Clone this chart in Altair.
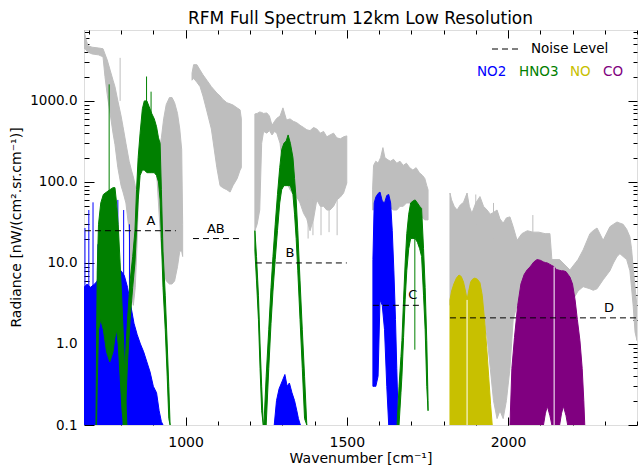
import altair as alt
import pandas as pd

FONT = "DejaVu Sans"

# ---------------- data ----------------
# Total spectrum (gray), drawn as envelope bands per spectral segment
GRAY_A_WN = [685, 690, 697, 710, 730, 744, 750, 757, 766, 775, 781, 790, 800, 806, 815, 825, 832, 838, 844, 849,
             856, 870, 890, 905, 912, 918, 925, 932, 940, 950, 958, 966, 975, 982, 988, 991]
GRAY_A_HI = [7500, 6000, 4800, 4600, 4500, 4400, 3800, 3200, 2400, 1800, 1500, 1000, 650, 480, 300, 180, 140, 115, 90, 60,
             150, 450, 500, 400, 300, 250, 350, 600, 900, 1100, 1100, 950, 700, 450, 250, 30]
GRAY_A_LO = [4500, 4300, 4000, 3800, 3700, 3500, 2000, 1200, 700, 400, 290, 150, 90, 75, 55, 25, 4, 3, 5, 15,
             120, 250, 250, 200, 100, 40, 15, 8, 6, 5.5, 5.5, 6, 9, 14, 14, 12]

GRAY_AB_WN = [1020, 1025, 1035, 1045, 1054, 1066, 1080, 1097, 1107, 1115, 1128, 1138, 1147, 1160, 1169, 1173]
GRAY_AB_HI = [2200, 2800, 2800, 2400, 2100, 1800, 1500, 1250, 1150, 1050, 950, 920, 890, 820, 775, 600]
GRAY_AB_LO = [1800, 1900, 1700, 1500, 1150, 750, 450, 150, 90, 85, 80, 75, 90, 110, 140, 150]

GRAY_B_WN = [1215, 1222, 1230, 1236, 1242, 1252, 1260, 1268, 1276, 1283, 1293, 1302, 1313, 1324, 1334, 1344,
             1350, 1355, 1366, 1376, 1386, 1397, 1407, 1418, 1428, 1438, 1448, 1459, 1469, 1480, 1490, 1500]
GRAY_B_HI = [690, 700, 730, 720, 700, 710, 650, 500, 560, 610, 650, 820, 580, 600, 560, 540,
             520, 500, 470, 440, 430, 470, 450, 400, 420, 360, 380, 400, 350, 340, 360, 370]
GRAY_B_LO = [25, 30, 45, 300, 420, 400, 430, 380, 420, 400, 300, 150, 100, 80, 70, 65,
             60, 55, 41, 35, 25, 35, 60, 50, 50, 45, 45, 50, 60, 65, 73, 97]

GRAY_C_WN = [1580, 1583, 1590, 1597, 1605, 1612, 1618, 1625, 1635, 1645, 1655, 1665, 1675, 1685, 1695, 1705,
             1715, 1725, 1735, 1742, 1748, 1752]
GRAY_C_HI = [80, 160, 180, 170, 200, 265, 200, 190, 180, 190, 170, 180, 160, 170, 150, 140,
             150, 130, 120, 110, 90, 80]
GRAY_C_LO = [45, 45, 50, 50, 50, 50, 50, 50, 48, 45, 45, 50, 50, 55, 55, 50,
             50, 45, 36, 34, 34, 34]

GRAY_D_WN = [1820, 1825, 1833, 1842, 1852, 1862, 1873, 1880, 1888, 1900, 1913, 1924, 1935, 1945, 1955, 1966,
             1975, 1985, 1995, 2006, 2016, 2028, 2043, 2060, 2077, 2095, 2115, 2130, 2136, 2160, 2192, 2217,
             2233, 2254, 2264, 2276, 2295, 2316, 2327, 2338, 2347, 2357, 2368, 2378, 2383, 2388, 2394, 2400]
GRAY_D_HI = [73, 60, 50, 45, 52, 56, 73, 50, 41, 55, 66, 50, 45, 40, 42, 45,
             35, 31, 36, 37, 28, 19, 23, 25, 24, 24, 23, 23, 11, 11, 8.2, 11,
             14.5, 23, 25, 27, 19, 28, 30, 32, 31, 30, 26, 21, 15, 9, 5, 2.9]
GRAY_D_LO = [3, 3, 3, 3, 3, 3, 3, 3, 3, 3, 3, 2.5, 1.2, 0.5, 0.2, 0.12,
             0.15, 0.12, 0.2, 0.5, 2, 3, 3, 3, 3, 3, 3, 3, 3, 3, 3, 4.5,
             5.1, 4.8, 4.6, 4.8, 6.2, 8, 10, 12, 13, 12, 11, 8, 5, 3, 1.4, 1.1]

GRAY_SPIKE_WN = [797, 1380, 1395, 1420, 1445, 1470, 1900, 1955, 2077]
GRAY_SPIKE_LO = [1000, 20, 22, 22, 24, 22, 30, 20, 20]
GRAY_SPIKE_HI = [3400, 60, 60, 60, 60, 60, 70, 55, 39]

# NO2 (blue)
NO2_A_WN = [685, 695, 705, 718, 726, 732, 740, 750, 760, 770, 780, 790, 800, 810, 820, 830, 840, 850, 860,
            870, 880, 890, 900, 910, 918, 925, 930]
NO2_A_HI = [5, 5.5, 5, 5.5, 6, 9, 10, 8, 9, 7, 10, 8, 8, 7, 5, 3, 1.8, 1.3, 1.0,
            0.8, 0.6, 0.45, 0.3, 0.25, 0.15, 0.11, 0.1]
NO2_A_LO = [0.1] * len(NO2_A_WN)

NO2_B_WN = [1275, 1282, 1290, 1300, 1308, 1315, 1322, 1330, 1338, 1345, 1350, 1356]
NO2_B_HI = [0.1, 0.2, 0.28, 0.35, 0.42, 0.3, 0.33, 0.25, 0.2, 0.15, 0.12, 0.1]
NO2_B_LO = [0.1] * len(NO2_B_WN)

NO2_C_WN = [1581, 1585, 1590, 1597, 1603, 1610, 1617, 1624, 1630, 1636, 1641, 1646, 1651, 1655, 1660]
NO2_C_HI = [11, 55, 65, 72, 75, 58, 55, 68, 70, 55, 25, 8, 2, 0.5, 0.1]
NO2_C_LO = [0.3, 0.3, 0.3, 0.4, 3.5, 3, 1.5, 0.3, 0.1, 0.1, 0.1, 0.1, 0.1, 0.1, 0.1]

NO2_SPIKE_WN = [688, 700, 713, 728, 772, 790, 808, 826]
NO2_SPIKE_HI = [27, 45, 56, 17, 14, 60, 45, 30]
NO2_SPIKE_LO = [0.1, 0.1, 0.1, 0.1, 0.1, 0.1, 0.1, 0.1]

# HNO3 (green)
HNO3_A1_WN = [722, 724, 726, 730, 737, 745, 755, 765, 775, 781, 786, 791, 797, 803, 808, 813, 818]
HNO3_A1_HI = [0.1, 1, 8, 30, 55, 70, 75, 80, 85, 85, 55, 30, 10, 3, 1, 0.3, 0.1]
HNO3_A1_LO = [0.1, 0.1, 0.3, 1.5, 2, 1.5, 0.8, 0.6, 0.8, 1.2, 1.5, 1, 0.4, 0.15, 0.1, 0.1, 0.1]

HNO3_A2_WN = [806, 812, 820, 828, 836, 843, 848, 853, 859, 866, 872, 880, 887, 895, 903, 910, 916, 921,
              925, 930, 937, 943, 948, 952]
HNO3_A2_HI = [0.1, 0.5, 2, 6, 12, 25, 80, 200, 400, 800, 1000, 1000, 850, 700, 600, 480, 350, 300,
              80, 14, 4, 1, 0.3, 0.1]
HNO3_A2_LO = [0.1, 0.1, 0.6, 2, 5, 10, 25, 60, 120, 140, 140, 130, 130, 130, 130, 120, 100, 60,
              20, 5, 1.5, 0.4, 0.12, 0.1]

HNO3_B1_WN = [1215, 1220, 1226, 1231, 1236, 1241]
HNO3_B1_HI = [25, 12, 4, 1.0, 0.3, 0.1]
HNO3_B1_LO = [14, 6, 2, 0.5, 0.15, 0.1]

HNO3_B2_WN = [1243, 1250, 1258, 1265, 1271, 1278, 1285, 1292, 1298, 1305, 1312, 1318, 1325, 1333, 1338,
              1343, 1348, 1355, 1362, 1369, 1376]
HNO3_B2_HI = [0.1, 0.4, 1.5, 5, 12, 30, 70, 150, 250, 300, 320, 380, 300, 200, 110,
              60, 25, 6, 1.5, 0.4, 0.1]
HNO3_B2_LO = [0.1, 0.1, 0.5, 1.8, 4.5, 11, 25, 55, 80, 90, 90, 90, 90, 70, 40,
              20, 8, 2, 0.5, 0.12, 0.1]

HNO3_C_WN = [1656, 1662, 1668, 1671, 1676, 1681, 1686, 1692, 1698, 1705, 1712, 1719, 1726, 1732, 1738,
             1743, 1748, 1752]
HNO3_C_HI = [0.1, 0.3, 0.7, 1.1, 3.5, 10, 23, 40, 55, 58, 60, 55, 50, 47, 15, 5, 1.1, 0.2]
HNO3_C_LO = [0.1, 0.1, 0.25, 0.4, 1.2, 3.5, 8, 15, 20, 20, 20, 18, 15, 12, 4, 1.5, 0.3, 0.15]

HNO3_SPIKE_WN = [763, 879, 893, 1711]
HNO3_SPIKE_HI = [1600, 2000, 1300, 40]
HNO3_SPIKE_LO = [60, 800, 600, 0.85]

# NO (yellow)
NO_WN = [1820, 1825, 1832, 1840, 1848, 1855, 1862, 1868, 1873, 1878, 1884, 1890, 1897, 1905, 1913, 1920,
         1927, 1934, 1940, 1946, 1951]
NO_HI = [3.5, 4.5, 5.5, 6.5, 7.1, 6.8, 5.8, 4.5, 3.5, 4.5, 5.8, 6.3, 6.5, 6.3, 5.7, 4,
         2, 0.9, 0.4, 0.18, 0.1]
NO_LO = [0.1] * len(NO_WN)

# CO (purple)
CO_WN = [2006, 2012, 2020, 2030, 2040, 2050, 2060, 2068, 2080, 2090, 2100, 2110, 2116, 2122, 2130, 2136,
         2143, 2150, 2160, 2166, 2172, 2180, 2185, 2192, 2200, 2208, 2215, 2223, 2230, 2235, 2238]
CO_HI = [0.1, 0.5, 1.2, 3, 5.5, 7.2, 8.3, 8.9, 10.3, 11, 10.8, 10.3, 10.1, 10, 9.6, 9.3,
         9, 8.3, 8.1, 8, 8, 7.8, 7.3, 6.7, 5.5, 3.5, 2, 1.1, 0.5, 0.2, 0.1]
CO_LO = [0.1, 0.1, 0.1, 0.1, 0.1, 0.1, 0.1, 0.1, 0.1, 0.1, 0.1, 0.1, 0.14, 0.17, 0.13, 0.1,
         0.1, 0.1, 0.1, 0.14, 0.17, 0.13, 0.1, 0.1, 0.1, 0.1, 0.1, 0.1, 0.1, 0.1, 0.1]

# Gaps (no data) inside the NO and CO bands
GAP_WN = [1873, 2143]
GAP_LO = [0.1, 0.1]
GAP_HI = [3.5, 9]

# Noise levels
NOISE_LABEL = ["A", "AB", "B", "C", "D"]
NOISE_START = [688, 1023, 1218, 1581, 1820]
NOISE_END = [970, 1172, 1500, 1736, 2400]
NOISE_LEVEL = [25, 20, 10, 3, 2.1]
NOISE_LABEL_WN = [893, 1094, 1324, 1705, 2313]

SPECIES = ["NO2", "HNO3", "NO", "CO"]

# ---------------- styling ----------------
GRAY = "#BEBEBE"
BLUE = "#0000FF"
GREEN = "#008000"
YELLOW = "#C8C000"
PURPLE = "#800080"

XS = alt.Scale(domain=[685, 2400], nice=False, zero=False)
YS = alt.Scale(type="log", domain=[0.1, 7500], nice=False)

X_MAJOR = [1000, 1500, 2000]
X_MINOR = list(range(700, 2401, 100))
Y_MAJOR = [0.1, 1, 10, 100, 1000]
Y_MINOR = [m * d for d in [0.1, 1, 10, 100, 1000] for m in range(2, 10) if m * d < 7500]


def bands(parts):
    frames = []
    for i, (wn, lo, hi) in enumerate(parts):
        frames.append(pd.DataFrame({"wn": wn, "lo": lo, "hi": hi, "seg": i}))
    return pd.concat(frames, ignore_index=True)


def tick_axis(orient, values, size):
    return alt.Axis(orient=orient, values=values, labels=False, domain=False, grid=False,
                    tickSize=size, offset=-size, tickColor="black", tickWidth=1, title=None)


def area_layer(df, color, xaxis=None, yaxis=None):
    return alt.Chart(df).mark_area(color=color, stroke=color, strokeWidth=1, opacity=1,
                                   clip=True, interpolate="linear").encode(
        x=alt.X("wn:Q", scale=XS, axis=xaxis),
        y=alt.Y("hi:Q", scale=YS, axis=yaxis),
        y2="lo:Q",
        detail="seg:N",
    )


def spike_layer(wn, lo, hi, color):
    df = pd.DataFrame({"wn": wn, "lo": lo, "hi": hi})
    return alt.Chart(df).mark_rule(color=color, strokeWidth=1, clip=True).encode(
        x=alt.X("wn:Q", scale=XS, axis=None),
        y=alt.Y("hi:Q", scale=YS, axis=None),
        y2="lo:Q",
    )


x_label_axis = alt.Axis(orient="bottom", values=X_MAJOR, format="d", ticks=False, tickSize=0,
                        domain=False, grid=False, labelPadding=10, labelFontSize=14, labelFont=FONT,
                        labelColor="black", title="Wavenumber [cm\u207b\u00b9]", titleFont=FONT,
                        titleFontSize=14, titleFontWeight="normal", titleColor="black",
                        titleY=33, titleBaseline="middle")
y_label_axis = alt.Axis(orient="left", values=Y_MAJOR, format=".1f", ticks=False, tickSize=0,
                        domain=False, grid=False, labelPadding=7, labelFontSize=13.5, labelFont=FONT,
                        labelColor="black", title="Radiance [nW/(cm\u00b2.sr.cm\u207b\u00b9)]",
                        titleFont=FONT, titleFontSize=14, titleFontWeight="normal", titleColor="black",
                        titleX=-68, titleY=197, titleAlign="center", titleBaseline="middle")

gray_df = bands([(GRAY_A_WN, GRAY_A_LO, GRAY_A_HI), (GRAY_AB_WN, GRAY_AB_LO, GRAY_AB_HI),
                 (GRAY_B_WN, GRAY_B_LO, GRAY_B_HI), (GRAY_C_WN, GRAY_C_LO, GRAY_C_HI),
                 (GRAY_D_WN, GRAY_D_LO, GRAY_D_HI)])
blue_df = bands([(NO2_A_WN, NO2_A_LO, NO2_A_HI), (NO2_B_WN, NO2_B_LO, NO2_B_HI),
                 (NO2_C_WN, NO2_C_LO, NO2_C_HI)])
green_df = bands([(HNO3_A1_WN, HNO3_A1_LO, HNO3_A1_HI), (HNO3_A2_WN, HNO3_A2_LO, HNO3_A2_HI),
                  (HNO3_B1_WN, HNO3_B1_LO, HNO3_B1_HI), (HNO3_B2_WN, HNO3_B2_LO, HNO3_B2_HI),
                  (HNO3_C_WN, HNO3_C_LO, HNO3_C_HI)])
yellow_df = bands([(NO_WN, NO_LO, NO_HI)])
purple_df = bands([(CO_WN, CO_LO, CO_HI)])

gray = area_layer(gray_df, GRAY, x_label_axis, y_label_axis)
gray_sp = spike_layer(GRAY_SPIKE_WN, GRAY_SPIKE_LO, GRAY_SPIKE_HI, GRAY)
blue = area_layer(blue_df, BLUE, tick_axis("bottom", X_MAJOR, 8), tick_axis("left", Y_MAJOR, 10))
blue_sp = spike_layer(NO2_SPIKE_WN, NO2_SPIKE_LO, NO2_SPIKE_HI, BLUE)
green = area_layer(green_df, GREEN, tick_axis("bottom", X_MINOR, 4), tick_axis("left", Y_MINOR, 5))
green_sp = spike_layer(HNO3_SPIKE_WN, HNO3_SPIKE_LO, HNO3_SPIKE_HI, GREEN)
yellow = area_layer(yellow_df, YELLOW, tick_axis("top", X_MAJOR, 8), tick_axis("right", Y_MAJOR, 9))
purple = area_layer(purple_df, PURPLE, tick_axis("top", X_MINOR, 4), tick_axis("right", Y_MINOR, 4))
gaps = spike_layer(GAP_WN, GAP_LO, GAP_HI, "white")

noise_df = pd.DataFrame({"label": NOISE_LABEL, "start": NOISE_START, "end": NOISE_END,
                         "level": NOISE_LEVEL, "lwn": NOISE_LABEL_WN})
noise = alt.Chart(noise_df).mark_rule(color="black", strokeWidth=1, strokeDash=[6, 4]).encode(
    x=alt.X("start:Q", scale=XS, axis=None), x2="end:Q",
    y=alt.Y("level:Q", scale=YS, axis=None))
noise_txt = alt.Chart(noise_df).mark_text(font=FONT, fontSize=13, color="black", dy=-10,
                                          baseline="middle", align="center").encode(
    x=alt.X("lwn:Q", scale=XS, axis=None),
    y=alt.Y("level:Q", scale=YS, axis=None),
    text="label:N")

one = pd.DataFrame({"k": [0]})
leg_dash = alt.Chart(one).mark_rule(color="black", strokeWidth=1, strokeDash=[6, 4]).encode(
    x=alt.value(408), x2=alt.value(437), y=alt.value(19))
leg_noise = alt.Chart(one).mark_text(font=FONT, fontSize=13.5, color="black", align="left",
                                     baseline="middle", text="Noise Level").encode(
    x=alt.value(447), y=alt.value(19))
leg_cols = [BLUE, GREEN, YELLOW, PURPLE]
leg_x = [393, 435, 486, 519]
leg_layers = [alt.Chart(one).mark_text(font=FONT, fontSize=13.5, color=c, align="left",
                                       baseline="middle", text=s).encode(x=alt.value(xp), y=alt.value(42))
              for s, c, xp in zip(SPECIES, leg_cols, leg_x)]

chart = alt.layer(gray, gray_sp, blue, blue_sp, green, green_sp, yellow, purple, gaps,
                  noise, noise_txt, leg_dash, leg_noise, *leg_layers).resolve_axis(
    x="independent", y="independent"
).properties(
    width=553, height=395,
    title=alt.TitleParams("RFM Full Spectrum 12km Low Resolution", font=FONT, fontSize=17,
                          fontWeight="normal", color="black", anchor="middle", offset=2),
    autosize=alt.AutoSizeParams(type="none"),
    padding={"left": 84, "top": 30, "right": 2, "bottom": 40},
).configure_view(stroke="black", strokeWidth=1).configure(background="white")

chart.save("out.html", embed_options={"renderer": "svg", "actions": False})
